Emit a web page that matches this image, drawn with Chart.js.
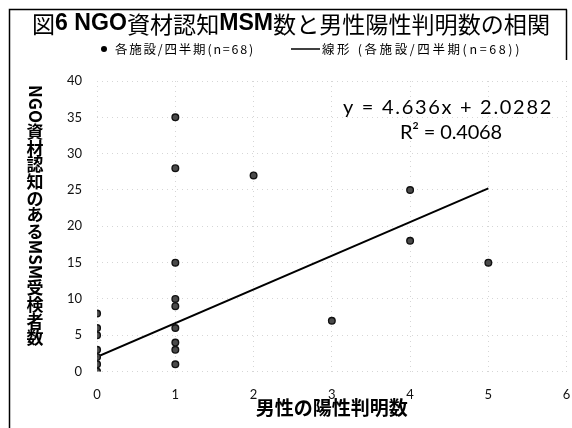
<!DOCTYPE html>
<html>
<head>
<meta charset="utf-8">
<script src="https://cdn.jsdelivr.net/npm/chart.js@4.4.0/dist/chart.umd.min.js"></script>
<style>
  html, body { margin: 0; padding: 0; background: #fff; overflow: hidden; }
  #wrap { width: 572px; height: 428px; position: relative; }
  canvas { display: block; }
</style>
</head>
<body>
<div id="wrap"><canvas id="chart"></canvas></div>
<script>
// データ
const xValues = [0, 0, 0, 0, 0, 0, 0, 1, 1, 1, 1, 1, 1, 1, 1, 1, 2, 3, 4, 4, 5];
const yValues = [8, 6, 5, 3, 2, 1, 0, 35, 28, 15, 10, 9, 6, 4, 3, 1, 27, 7, 25, 18, 15];
const trendX = [0, 5];
const trendY = [2.03, 25.21];
const xTicks = [0, 1, 2, 3, 4, 5, 6];
const yTicks = [0, 5, 10, 15, 20, 25, 30, 35, 40];

const seriesLabel = '各施設/四半期(n=68)';
const trendLabel = '線形 (各施設/四半期(n=68))';
const equationText = 'y = 4.636x + 2.0282';
const r2Text = 'R² = 0.4068';
const yTitle = 'NGO資材認知のあるMSM受検者数';
const xTitle = '男性の陽性判明数';
// タイトル: [文字列, 太字か]
const titleParts = [['図', false], ['6 NGO', true], ['資材認知', false], ['MSM', true], ['数と男性陽性判明数の相関', false]];

const cjk = '"Noto Sans CJK JP", "Noto Sans", sans-serif';
const num = 'Lato, "Open Sans", sans-serif';

// 幅に合わせて字間を調整して描く
function fitText(ctx, text, x, y, width) {
    ctx.letterSpacing = '0px';
    const w = ctx.measureText(text).width;
    const n = [...text].length;
    ctx.letterSpacing = ((width - w) / n) + 'px';
    ctx.fillText(text, x, y);
    ctx.letterSpacing = '0px';
}

// タイトル・凡例・式・縦書き軸名・枠線
const decorPlugin = {
    id: 'decor',
    afterDraw(chart) {
        const ctx = chart.ctx;
        ctx.save();
        ctx.fillStyle = '#000';
        ctx.strokeStyle = '#000';

        // 枠線 (左と上)
        ctx.lineWidth = 1.5;
        ctx.beginPath();
        ctx.moveTo(9.5, 428);
        ctx.lineTo(9.5, 9.5);
        ctx.lineTo(567, 9.5);
        ctx.stroke();
        ctx.beginPath();
        ctx.moveTo(566.5, 9.5);
        ctx.lineTo(566.5, 60);
        ctx.stroke();

        // タイトル (幅 32〜550)
        const tSize = 23;
        const fontFor = b => b ? `bold ${tSize}px "Liberation Sans", Arial, sans-serif` : `${tSize}px ${cjk}`;
        let total = 0;
        titleParts.forEach(p => { ctx.font = fontFor(p[1]); total += ctx.measureText(p[0]).width; });
        const sx = 518 / total;
        let tx = 32;
        ctx.textBaseline = 'middle';
        ctx.textAlign = 'left';
        titleParts.forEach(p => {
            ctx.font = fontFor(p[1]);
            const w = ctx.measureText(p[0]).width;
            ctx.save();
            ctx.translate(tx, 24);
            ctx.scale(sx, 1);
            ctx.fillText(p[0], 0, 0);
            ctx.restore();
            tx += w * sx;
        });

        // 凡例
        ctx.font = `12.5px ${cjk}`;
        ctx.beginPath();
        ctx.arc(104, 49, 3, 0, Math.PI * 2);
        ctx.fill();
        fitText(ctx, seriesLabel, 115, 49, 140);
        ctx.lineWidth = 1.5;
        ctx.beginPath();
        ctx.moveTo(291, 49);
        ctx.lineTo(320, 49);
        ctx.stroke();
        fitText(ctx, trendLabel, 322, 49, 200);

        // 回帰式
        ctx.font = `20px ${num}`;
        fitText(ctx, equationText, 343, 108, 210);
        fitText(ctx, r2Text, 400, 133, 102);

        // 縦書きの軸タイトル
        const ySize = 17;
        ctx.font = `bold ${ySize}px ${cjk}`;
        ctx.textAlign = 'center';
        ctx.textBaseline = 'middle';
        let cy = 85;
        const cx = 35;
        for (const ch of yTitle) {
            if (/[A-Za-z0-9]/.test(ch)) {
                const w = ctx.measureText(ch).width;
                ctx.save();
                ctx.translate(cx, cy + w / 2);
                ctx.rotate(Math.PI / 2);
                ctx.fillText(ch, 0, 0);
                ctx.restore();
                cy += w;
            } else {
                ctx.fillText(ch, cx, cy + ySize / 2);
                cy += ySize * 0.98;
            }
        }
        ctx.restore();
    }
};

const grid = {
    color: '#d6d6d6',
    lineWidth: 1,
    drawTicks: false
};
const border = { display: false, dash: [1, 4] };

new Chart(document.getElementById('chart'), {
    type: 'scatter',
    data: {
        datasets: [{
            label: seriesLabel,
            data: xValues.map((x, i) => ({ x: x, y: yValues[i] })),
            pointRadius: 3.3,
            pointBackgroundColor: '#4a4a4a',
            pointBorderColor: '#111',
            pointBorderWidth: 1.4
        }, {
            label: trendLabel,
            data: trendX.map((x, i) => ({ x: x, y: trendY[i] })),
            showLine: true,
            borderColor: '#000',
            borderWidth: 2,
            pointRadius: 0
        }]
    },
    options: {
        responsive: true,
        maintainAspectRatio: false,
        animation: false,
        layout: { padding: { top: 81, left: 52, right: 5, bottom: 28 } },
        plugins: {
            legend: { display: false },
            tooltip: { enabled: false }
        },
        scales: {
            x: {
                type: 'linear',
                min: 0, max: 6,
                afterBuildTicks: s => { s.ticks = xTicks.map(v => ({ value: v })); },
                border: border,
                // 目盛り線は透明にして、ラベルとの間隔だけ確保する
                grid: { color: '#d6d6d6', lineWidth: 1, drawTicks: true, tickLength: 15, tickColor: 'rgba(0,0,0,0)' },
                ticks: { padding: 0, color: '#111', font: { family: num, size: 13 } },
                title: {
                    display: true, text: xTitle, color: '#000',
                    font: { family: cjk, size: 19, weight: 'bold' },
                    padding: { top: -6, bottom: -19 }
                }
            },
            y: {
                min: 0, max: 40,
                afterBuildTicks: s => { s.ticks = yTicks.map(v => ({ value: v })); },
                border: border,
                grid: grid,
                ticks: { padding: 15, color: '#111', font: { family: num, size: 13 } }
            }
        }
    },
    plugins: [decorPlugin]
});
</script>
</body>
</html>
